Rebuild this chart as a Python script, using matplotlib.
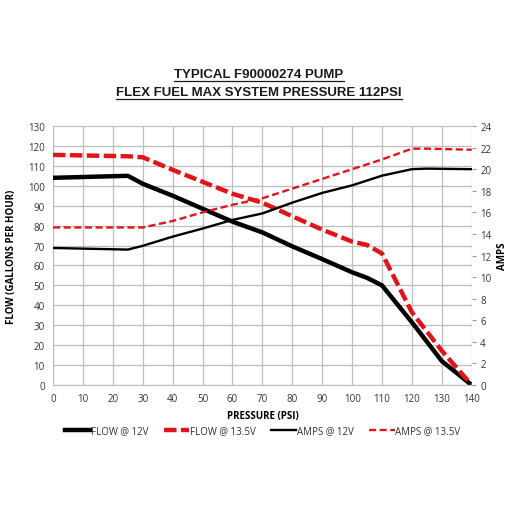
import matplotlib
matplotlib.use('Agg')
import matplotlib.pyplot as plt
from matplotlib.lines import Line2D

plt.rcParams['font.family'] = ['Open Sans', 'DejaVu Sans']

# 데이터
psi = [0, 25, 30, 40, 50, 60, 70, 80, 90, 100, 105, 110, 120, 130, 140]
flow_12 = [104, 105, 101, 95, 88.5, 82, 76.6, 69.6, 63.2, 56.6, 53.8, 50, 31.5, 12, 0]
flow_135 = [115.5, 114.8, 114.3, 108, 102, 96, 91.5, 84.7, 78, 72, 70.3, 66, 36.5, 17.2, 0]

amps_psi = [0, 25, 30, 40, 50, 60, 70, 80, 90, 100, 110, 120, 125, 140]
amps_12 = [12.7, 12.55, 12.9, 13.75, 14.5, 15.3, 15.9, 16.9, 17.8, 18.5, 19.4, 20.0, 20.05, 20.0]
amps_135 = [14.6, 14.6, 14.6, 15.2, 16.0, 16.7, 17.3, 18.2, 19.1, 20.0, 20.9, 21.9, 21.9, 21.8]

title_lines = ["TYPICAL F90000274 PUMP", "FLEX FUEL MAX SYSTEM PRESSURE 112PSI"]

fig = plt.figure(figsize=(5.1, 5.1), dpi=100)
ax = fig.add_axes([0.104, 0.243, 0.821, 0.508])
ax2 = ax.twinx()

ax.plot(psi, flow_12, color='black', lw=3.2, solid_capstyle='butt', zorder=3)
ax.plot(psi, flow_135, color='#e0141b', lw=3.2, ls=(0, (2.8, 1.0)), zorder=3)
ax2.plot(amps_psi, amps_12, color='black', lw=1.7)
ax2.plot(amps_psi, amps_135, color='#e0141b', lw=1.7, ls=(0, (3.0, 1.5)))

ax.set_xlim(0, 140)
ax.set_ylim(0, 130)
ax2.set_ylim(0, 24)
ax.set_xticks(range(0, 141, 10))
ax.set_yticks(range(0, 131, 10))
ax2.set_yticks(range(0, 25, 2))
ax.grid(True, color='#bdbdbd', lw=0.9)
ax.set_axisbelow(True)

for a in (ax, ax2):
    for s in a.spines.values():
        s.set_visible(False)
    a.tick_params(labelsize=7, colors='#333333', length=0, pad=6)
ax2.tick_params(axis='y', length=3, color='#999999', pad=3)
ax.spines['left'].set_visible(True)
ax.spines['left'].set_color('#bdbdbd')
ax.spines['bottom'].set_visible(True)
ax.spines['bottom'].set_color('#bdbdbd')

ax.set_xlabel("PRESSURE (PSI)", fontsize=7, fontweight='bold', labelpad=4)
ax.set_ylabel("FLOW (GALLONS PER HOUR)", fontsize=7, fontweight='bold', labelpad=8)
ax2.set_ylabel("AMPS", fontsize=7, fontweight='bold', labelpad=4)

handles = [
    Line2D([], [], color='black', lw=3.2),
    Line2D([], [], color='#e0141b', lw=3.2, ls=(0, (2.8, 1.0))),
    Line2D([], [], color='black', lw=1.7),
    Line2D([], [], color='#e0141b', lw=1.7, ls=(0, (3.0, 1.5))),
]
labels = ["FLOW @ 12V", "FLOW @ 13.5V", "AMPS @ 12V", "AMPS @ 13.5V"]
fig.legend(handles, labels, loc='center', bbox_to_anchor=(0.515, 0.153), ncol=4,
           frameon=False, fontsize=7, handlelength=2.6, handletextpad=0.05,
           columnspacing=1.6, labelcolor='#333333')

# 제목 (밑줄)
fig.canvas.draw()
renderer = fig.canvas.get_renderer()
for i, line in enumerate(title_lines):
    y = 1 - (75 + i * 18) / 510
    t = fig.text(0.508, y, line, ha='center', va='center', fontsize=9.5,
                 fontweight='bold', family='Liberation Sans', color='#1a1a1a')
    bb = t.get_window_extent(renderer).transformed(fig.transFigure.inverted())
    uy = bb.y0 - 0.002
    fig.add_artist(Line2D([bb.x0, bb.x1], [uy, uy], color='#1a1a1a', lw=0.9,
                          transform=fig.transFigure))

fig.savefig('out.png', dpi=100)
